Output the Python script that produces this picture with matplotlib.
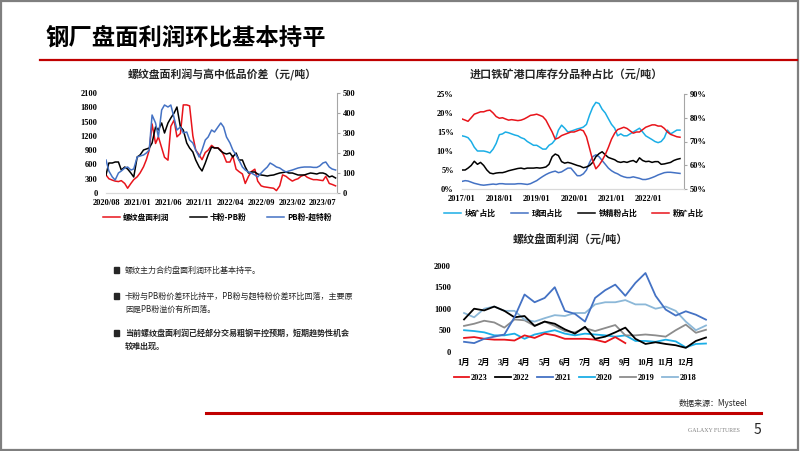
import numpy as np
import pandas as pd
import matplotlib
matplotlib.use("Agg")
import matplotlib.pyplot as plt
import matplotlib.dates as mdates
from matplotlib.lines import Line2D
from matplotlib.patches import Rectangle

plt.rcParams['font.family'] = ['Noto Sans CJK SC', 'DejaVu Sans']

W, H = 802, 451
SERIF = ['Liberation Serif', 'Noto Sans CJK SC']
CJK = ['Noto Sans CJK SC', 'Liberation Serif']

# ---------------- chart 1: 螺纹盘面利润与高中低品价差 ----------------
c1_dates = pd.date_range('2020-08-01', periods=75, freq='SMS')
c1_profit = [380, 300, 270, 250, 240, 260, 200, 100, 200, 280,
             340, 420, 550, 700, 900, 1450, 1040, 1180, 950, 750,
             690, 1400, 1530, 1180, 1250, 1850, 1850, 1830, 1200, 900,
             800, 700, 850, 900, 1000, 950, 950, 900, 800, 650,
             650, 780, 500, 450, 400, 200, 350, 450, 500, 250,
             150, 130, 120, 110, 100, 50, 150, 380, 350, 300,
             250, 280, 300, 350, 380, 330, 300, 280, 280, 270,
             260, 350, 200, 180, 150]
c1_ka_pb = [90, 150, 150, 155, 155, 115, 130, 120, 100, 80,
            180, 190, 215, 220, 225, 250, 330, 315, 350, 300,
            350, 375, 400, 430, 330, 315, 250, 225, 205, 165,
            130, 110, 150, 190, 230, 225, 225, 210, 200, 195,
            200, 180, 200, 165, 165, 130, 100, 105, 105, 95,
            90, 88, 85, 88, 90, 95, 100, 102, 105, 100,
            100, 95, 90, 90, 90, 95, 100, 98, 95, 100,
            100, 95, 80, 85, 75]
c1_pb_ct = [165, 110, 80, 65, 100, 110, 125, 130, 115, 120,
            180, 185, 190, 200, 215, 390, 350, 280, 415, 440,
            430, 440, 375, 315, 330, 300, 305, 265, 250, 215,
            180, 215, 265, 280, 315, 305, 330, 350, 330, 280,
            250, 215, 190, 165, 130, 115, 105, 100, 90, 80,
            100, 115, 130, 150, 140, 130, 125, 115, 105, 110,
            115, 120, 125, 128, 130, 130, 130, 128, 128, 135,
            150, 155, 130, 120, 115]
c1_ticks = ['2020-08-01', '2021-01-01', '2021-06-01', '2021-11-01',
            '2022-04-01', '2022-09-01', '2023-02-01', '2023-07-01']

# ---------------- chart 2: 进口铁矿港口库存分品种占比 ----------------
c2_dates = pd.date_range('2017-01-01', periods=71, freq='MS')
c2_lump = [14, 13.8, 13.5, 12.5, 11, 10, 10, 10, 9.8, 9.5, 10.5, 12,
           14.3, 14.5, 15, 14.8, 14.5, 14.2, 14, 13.5, 13.2, 12.5, 12, 11.5,
           11.5, 11, 10.5, 10.5, 11.5, 12, 13, 15.5, 16.8, 16, 15, 15.2,
           15.5, 15.8, 16, 16.3, 17, 19.5, 21.5, 22.8, 22.5, 21, 20, 18.5,
           17, 16, 14, 14.5, 14, 14, 14.5, 15, 15.5, 16, 15, 14,
           13.5, 13, 12.5, 12.2, 12.5, 13.5, 15.5, 14.5, 15, 15.5, 15.5]
c2_pellet = [2.0, 2.2, 2.1, 1.8, 1.5, 1.3, 1.1, 1.0, 1.1, 1.2, 1.3, 1.2,
             1.4, 1.4, 1.3, 1.3, 1.3, 1.3, 1.4, 1.4, 1.3, 1.2, 1.4, 1.8,
             2.2, 2.8, 3.3, 3.8, 4.2, 4.5, 4.7, 4.3, 4.5, 5.0, 5.5, 5.5,
             4.5, 3.5, 3.5, 4.0, 5.0, 7.0, 8.5, 9.0, 8.5, 7.5, 6.5, 5.5,
             4.8, 4.3, 4.0, 3.5, 3.2, 3.0, 3.0, 3.2, 3.0, 2.8, 2.5, 2.5,
             2.7, 3.0, 3.3, 3.7, 4.0, 4.3, 4.4, 4.4, 4.3, 4.2, 4.1]
c2_conc = [5.0, 5.0, 5.5, 6.2, 7.3, 6.5, 7.0, 6.2, 5.0, 4.2, 4.0, 4.2,
           4.3, 4.3, 4.5, 4.8, 5.0, 5.2, 5.4, 5.5, 5.3, 5.5, 5.5, 5.5,
           5.6, 5.5, 5.6, 5.8, 6.5, 8.5, 9.2, 8.8, 7.2, 6.8, 7.0, 6.8,
           6.5, 6.2, 6.0, 5.6, 5.8, 6.2, 7.0, 8.5, 9.3, 9.8, 9.0, 8.3,
           8.0, 7.7, 7.2, 7.0, 7.2, 7.0, 7.3, 7.5, 7.0, 8.2, 7.5, 7.2,
           7.3, 7.0, 7.2, 7.2, 6.5, 6.6, 6.8, 7.0, 7.5, 7.8, 8.0]
c2_fines = [79.5, 79.0, 78.5, 80.0, 81.5, 82.0, 82.5, 82.5, 83.0, 83.2, 82.0, 80.5,
            79.8, 80.0, 79.5, 79.0, 79.2, 79.0, 78.8, 79.0, 79.5, 80.2, 81.0, 81.2,
            81.5, 81.0, 80.5, 79.0, 76.5, 74.0, 71.0, 71.5, 72.5, 73.0, 73.5, 74.0,
            74.0, 74.5, 75.0, 74.5, 72.0, 67.0, 62.0, 58.5, 60.0, 62.0, 64.5, 67.5,
            71.0, 73.5, 75.0, 75.5, 76.0, 75.5, 74.5, 73.5, 74.0, 74.0, 75.0, 76.0,
            76.5, 77.0, 77.0, 76.5, 76.5, 75.5, 74.0, 73.0, 72.5, 72.0, 71.8]

# ---------------- chart 3: 螺纹盘面利润 季节性 ----------------
months = ['1月', '2月', '3月', '4月', '5月', '6月', '7月', '8月', '9月', '10月', '11月', '12月']
half_month = np.arange(1, 13.01, 0.5)
s2018 = [900, 800, 1000, 1050, 950, 950, 750, 700, 780, 850, 830, 900, 900,
         1100, 1150, 1150, 1200, 1100, 1100, 1000, 1050, 950, 700, 500, 610]
s2019 = [600, 650, 720, 680, 560, 750, 730, 600, 700, 600, 480, 450, 550,
         480, 550, 620, 380, 380, 400, 380, 350, 500, 630, 440, 510]
s2020 = [500, 480, 450, 380, 380, 420, 300, 400, 450, 500, 420, 380, 420,
         400, 380, 350, 380, 250, 250, 230, 280, 240, 100, 180, 190]
s2021 = [230, 200, 300, 350, 400, 800, 1330, 1150, 1250, 1500, 950, 880, 700,
         1250, 1430, 1560, 1300, 1600, 1830, 1300, 980, 840, 940, 860, 745]
s2022 = [750, 1000, 960, 1050, 950, 800, 830, 600, 700, 650, 520, 420, 580,
         300, 350, 450, 560, 300, 180, 220, 180, 150, 90, 250, 330]
s2023 = [320, 340, 300, 280, 280, 260, 380, 320, 420, 380, 300, 300, 300,
         280, 220, 340, 200]

RED = '#E8141B'
BLUE = '#4472C4'
CYAN = '#1BAEE6'
GRAY = '#8C8C8C'
LBLUE = '#8CB8D8'


def rect(x0, y0, x1, y1):
    return [x0 / W, 1 - y1 / H, (x1 - x0) / W, (y1 - y0) / H]


def ftext(x, y, s, **kw):
    fig.text(x / W, 1 - y / H, s, **kw)


def style_ticks(ax, size=6):
    for lab in ax.get_xticklabels() + ax.get_yticklabels():
        lab.set_fontfamily(SERIF)
        lab.set_fontweight('bold')
        lab.set_fontsize(size)


fig = plt.figure(figsize=(W / 100, H / 100), dpi=100)

# slide frame
fig.add_artist(Rectangle((0.001, 0.003), 797 / W, 0.995, transform=fig.transFigure,
                         fill=False, edgecolor='#7F7F7F', linewidth=1.6))
ftext(45, 38, '钢厂盘面利润环比基本持平', fontsize=16.8, fontweight='bold', va='center')
fig.add_artist(Line2D([40 / W, 797 / W], [1 - 60 / H] * 2, color='#C00000', linewidth=1.6))

# ---- chart 1
ax1 = fig.add_axes(rect(106, 93, 337, 193))
ax1b = ax1.twinx()
l1, = ax1.plot(c1_dates, c1_profit, color=RED, linewidth=1.1, label='螺纹盘面利润')
l2, = ax1b.plot(c1_dates, c1_ka_pb, color='black', linewidth=1.1, label='卡粉-PB粉')
l3, = ax1b.plot(c1_dates, c1_pb_ct, color=BLUE, linewidth=1.1, label='PB粉-超特粉')
ax1.set_ylim(0, 2100)
ax1.set_yticks(range(0, 2101, 300))
ax1b.set_ylim(0, 500)
ax1b.set_yticks(range(0, 501, 100))
ax1.set_xlim(pd.Timestamp('2020-08-01'), pd.Timestamp('2023-09-08'))
ax1.set_xticks(pd.to_datetime(c1_ticks))
ax1.xaxis.set_major_formatter(mdates.DateFormatter('%Y/%m'))
for a in (ax1, ax1b):
    for sp in ('top', 'left'):
        a.spines[sp].set_visible(False)
    a.spines['right'].set_color('#A6A6A6')
    a.spines['bottom'].set_color('#D9D9D9')
    a.tick_params(length=0, pad=2)
ax1.tick_params(axis='x', pad=4)
ax1.tick_params(axis='y', pad=6)
ax1.spines['right'].set_visible(False)
ax1b.tick_params(axis='y', length=2, color='#A6A6A6')
style_ticks(ax1)
style_ticks(ax1b)
ftext(222, 75, '螺纹盘面利润与高中低品价差（元/吨）', fontsize=7.8, fontweight='bold',
      ha='center', va='center', color='#262626')
ax1.legend(handles=[l1, l2, l3], loc='center', ncol=3, frameon=False,
           bbox_to_anchor=(217 / W, 1 - 217 / H), bbox_transform=fig.transFigure,
           prop={'family': CJK, 'size': 5.6, 'weight': 'bold'},
           handlelength=2.2, columnspacing=2.6, handletextpad=0.4)

# ---- chart 2
ax2 = fig.add_axes(rect(462, 94, 684, 189))
ax2b = ax2.twinx()
m1, = ax2.plot(c2_dates, c2_lump, color=CYAN, linewidth=1.1, label='块矿占比')
m2, = ax2.plot(c2_dates, c2_pellet, color=BLUE, linewidth=1.1, label='球团占比')
m3, = ax2.plot(c2_dates, c2_conc, color='black', linewidth=1.1, label='铁精粉占比')
m4, = ax2b.plot(c2_dates, c2_fines, color=RED, linewidth=1.1, label='粉矿占比')
ax2.set_ylim(0, 25)
ax2.set_yticks(range(0, 26, 5))
ax2.set_yticklabels([f'{v}%' for v in range(0, 26, 5)])
ax2b.set_ylim(50, 90)
ax2b.set_yticks(range(50, 91, 10))
ax2b.set_yticklabels([f'{v}%' for v in range(50, 91, 10)])
ax2.set_xlim(pd.Timestamp('2017-01-01'), pd.Timestamp('2022-12-10'))
ax2.set_xticks(pd.date_range('2017-01-01', periods=6, freq='YS'))
ax2.xaxis.set_major_formatter(mdates.DateFormatter('%Y/%m'))
for a in (ax2, ax2b):
    for sp in ('top', 'left'):
        a.spines[sp].set_visible(False)
    a.spines['bottom'].set_color('#D9D9D9')
    a.tick_params(length=0, pad=2)
ax2.tick_params(axis='x', pad=4)
ax2.tick_params(axis='y', pad=6)
ax2.spines['right'].set_visible(False)
ax2b.spines['right'].set_color('#A6A6A6')
ax2b.tick_params(axis='y', length=2, color='#A6A6A6')
style_ticks(ax2)
style_ticks(ax2b)
ftext(566, 75, '进口铁矿港口库存分品种占比（元/吨）', fontsize=8, fontweight='bold',
      ha='center', va='center', color='#262626')
ax2.legend(handles=[m1, m2, m3, m4], loc='center', ncol=4, frameon=False,
           bbox_to_anchor=(574 / W, 1 - 213 / H), bbox_transform=fig.transFigure,
           prop={'family': CJK, 'size': 5.6, 'weight': 'bold'},
           handlelength=2.2, columnspacing=1.9, handletextpad=0.5)

# ---- chart 3
ax3 = fig.add_axes(rect(458, 265.7, 710, 351.7))
n1, = ax3.plot(half_month[:len(s2023)], s2023, color=RED, linewidth=1.3, label='2023')
n2, = ax3.plot(half_month, s2022, color='black', linewidth=1.3, label='2022')
n3, = ax3.plot(half_month, s2021, color=BLUE, linewidth=1.3, label='2021')
n4, = ax3.plot(half_month, s2020, color=CYAN, linewidth=1.3, label='2020')
n5, = ax3.plot(half_month, s2019, color=GRAY, linewidth=1.3, label='2019')
n6, = ax3.plot(half_month, s2018, color=LBLUE, linewidth=1.3, label='2018')
for ln in (n6, n5, n4):
    ln.set_zorder(1)
ax3.set_ylim(0, 2000)
ax3.set_yticks(range(0, 2001, 500))
ax3.set_xlim(0.7, 13.2)
ax3.set_xticks(range(1, 13))
ax3.set_xticklabels(months)
for sp in ax3.spines.values():
    sp.set_visible(False)
ax3.tick_params(length=0, pad=5)
style_ticks(ax3)
ftext(570, 240, '螺纹盘面利润（元/吨）', fontsize=8, fontweight='bold',
      ha='center', va='center', color='#262626')
ax3.legend(handles=[n1, n2, n3, n4, n5, n6], loc='center', ncol=6, frameon=False,
           bbox_to_anchor=(575 / W, 1 - 378 / H), bbox_transform=fig.transFigure,
           prop={'family': SERIF, 'size': 6, 'weight': 'bold'},
           handlelength=1.9, columnspacing=0.9, handletextpad=0.2)

# ---- bullets
bullets = [
    (270, ['螺纹主力合约盘面利润环比基本持平。'], 'normal'),
    (296, ['卡粉与PB粉价差环比持平，PB粉与超特粉价差环比回落，主要原',
           '因是PB粉溢价有所回落。'], 'normal'),
    (333, ['当前螺纹盘面利润已经部分交易粗钢平控预期，短期趋势性机会',
           '较难出现。'], 'bold'),
]
for y0, lines, wt in bullets:
    fig.add_artist(Rectangle((113.5 / W, 1 - (y0 + 2.8) / H), 5.5 / W, 5.5 / H,
                             transform=fig.transFigure, color='#262626'))
    for i, s in enumerate(lines):
        ftext(125, y0 + i * 13.5, s, fontsize=5.8, fontweight=wt, va='center', color='#262626')

# ---- footer
ftext(747, 404, '数据来源：Mysteel', fontsize=5.8, ha='right', va='center', color='#262626')
fig.add_artist(Line2D([206 / W, 761 / W], [1 - 413 / H] * 2, color='#C00000', linewidth=2.2))
ftext(740, 431, 'GALAXY FUTURES', fontsize=4.2, ha='right', va='center',
      family='Liberation Serif', color='#7F7F7F')
ftext(757, 430, '5', fontsize=10, ha='center', va='center', color='#262626')

fig.savefig('out.png', dpi=100)
